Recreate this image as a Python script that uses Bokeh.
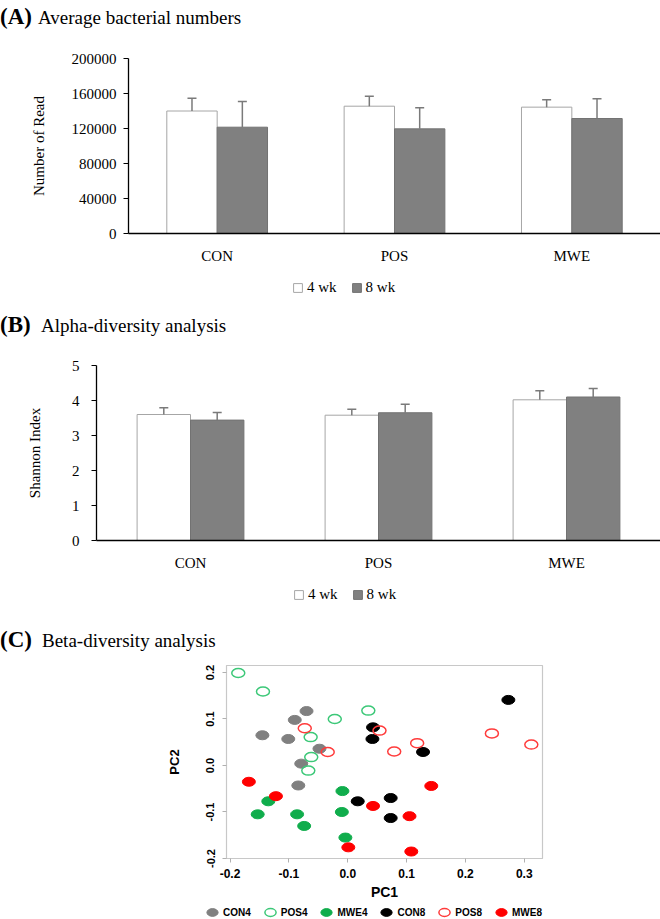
from bokeh.plotting import figure
from bokeh.models import (FactorRange, Range1d, FixedTicker, Legend, LegendItem, Div,
                          ColumnDataSource, BasicTickFormatter, PrintfTickFormatter)
from bokeh.transform import dodge
from bokeh.embed import file_html
from bokeh.resources import INLINE

# ---------------- data ----------------
groups = ["CON", "POS", "MWE"]
weeks = ["4 wk", "8 wk"]

reads_4wk = [140000, 145500, 144400]
reads_4wk_sd = [14700, 11500, 8400]
reads_8wk = [121500, 119600, 131400]
reads_8wk_sd = [29400, 24000, 22500]
reads_ticks = [0, 40000, 80000, 120000, 160000, 200000]

shannon_4wk = [3.60, 3.58, 4.02]
shannon_4wk_sd = [0.19, 0.17, 0.26]
shannon_8wk = [3.44, 3.65, 4.10]
shannon_8wk_sd = [0.22, 0.24, 0.24]
shannon_ticks = [0, 1, 2, 3, 4, 5]

pc_ticks = [-0.2, -0.1, 0.0, 0.1, 0.2, 0.3]
con4_pc1 = [-0.070, -0.090, -0.145, -0.101, -0.048, -0.079, -0.084]
con4_pc2 = [0.117, 0.098, 0.065, 0.057, 0.036, 0.004, -0.043]
pos4_pc1 = [-0.186, -0.144, -0.022, -0.063, -0.062, -0.067, 0.035]
pos4_pc2 = [0.199, 0.159, 0.100, 0.061, 0.018, -0.011, 0.118]
mwe4_pc1 = [-0.009, -0.135, -0.153, -0.086, -0.010, -0.074, -0.004]
mwe4_pc2 = [-0.055, -0.077, -0.105, -0.105, -0.100, -0.130, -0.155]
con8_pc1 = [0.273, 0.043, 0.042, 0.128, 0.017, 0.073, 0.073]
con8_pc2 = [0.141, 0.082, 0.057, 0.029, -0.077, -0.070, -0.113]
pos8_pc1 = [-0.073, -0.034, 0.054, 0.245, 0.118, 0.079, 0.312]
pos8_pc2 = [0.080, 0.029, 0.075, 0.069, 0.048, 0.030, 0.045]
mwe8_pc1 = [-0.168, -0.122, 0.001, 0.142, 0.043, 0.105, 0.108]
mwe8_pc2 = [-0.035, -0.066, -0.176, -0.044, -0.087, -0.109, -0.185]

SERIF = "Liberation Serif"
SANS = "Liberation Sans"
WHITE_BAR = dict(fill_color="white", line_color="#a6a6a6", line_width=1)
GRAY_BAR = dict(fill_color="#808080", line_color="#727272", line_width=1)


def title_div(tag, text, tag_w, height):
    html = ('<span style="display:inline-block;width:%dpx;font-weight:bold;font-size:23px">%s</span>%s'
            % (tag_w, tag, text))
    return Div(text=html, width=660, height=height, margin=0,
               styles={"font-family": SERIF, "font-size": "19px",
                       "line-height": "%dpx" % height, "color": "black",
                       "white-space": "nowrap"})


def strip(height, x_range, y_range):
    # legend-only strip; its glyphs are hidden / outside the visible ranges
    p = figure(width=660, height=height, x_range=x_range, y_range=y_range,
               x_axis_location=None, y_axis_location=None, toolbar_location=None,
               output_backend="svg", min_border=0)
    p.outline_line_color = None
    p.grid.visible = False
    return p


def bar_legend(height, vx, vy, v4, v8):
    p = strip(height, FactorRange(factors=groups), Range1d(-2, -1))
    r4 = p.vbar(x=groups, top=v4, bottom=v4, width=0, visible=False, **WHITE_BAR)
    r8 = p.vbar(x=groups, top=v8, bottom=v8, width=0, visible=False, **GRAY_BAR)
    leg = Legend(items=[LegendItem(label=weeks[0], renderers=[r4]),
                        LegendItem(label=weeks[1], renderers=[r8])],
                 orientation="horizontal", location=(vx, vy),
                 glyph_width=11, glyph_height=11, label_standoff=4, spacing=14,
                 padding=0, margin=0, border_line_color=None,
                 background_fill_alpha=0, label_height=16,
                 inactive_fill_alpha=0,
                 label_text_font=SERIF, label_text_font_size="15px",
                 label_text_color="black")
    p.add_layout(leg)
    return p


def bar_panel(frame_w, b_left, b_top, b_bottom, ymax, ticks, v4, e4, v8, e8,
              ylabel, lab_standoff, axlab_standoff):
    p = figure(frame_width=frame_w, frame_height=175,
               x_range=FactorRange(factors=groups, range_padding=0),
               y_range=Range1d(0, ymax),
               output_backend="svg", toolbar_location=None,
               min_border_left=b_left, min_border_right=0,
               min_border_top=b_top, min_border_bottom=b_bottom)
    p.outline_line_color = None
    p.grid.visible = False
    src = ColumnDataSource(dict(
        g=groups, v4=v4, u4=[a + b for a, b in zip(v4, e4)],
        v8=v8, u8=[a + b for a, b in zip(v8, e8)]))
    off, w = 0.142, 0.284
    p.vbar(x=dodge("g", -off, range=p.x_range), top="v4", width=w, source=src, **WHITE_BAR)
    p.vbar(x=dodge("g", off, range=p.x_range), top="v8", width=w, source=src, **GRAY_BAR)
    for key, o in (("4", -off), ("8", off)):
        p.segment(x0=dodge("g", o, range=p.x_range), y0="v" + key,
                  x1=dodge("g", o, range=p.x_range), y1="u" + key, source=src,
                  line_color="#7a7a7a", line_width=1.5)
        p.scatter(x=dodge("g", o, range=p.x_range), y="u" + key, marker="dash",
                  size=9, line_color="#7a7a7a", line_width=1.5, source=src)

    ya = p.yaxis[0]
    ya.ticker = FixedTicker(ticks=ticks)
    ya.formatter = BasicTickFormatter(use_scientific=False)
    ya.major_tick_out = 5
    ya.major_tick_in = 0
    ya.minor_tick_out = 0
    ya.minor_tick_in = 0
    ya.axis_line_width = 1.3
    ya.axis_line_color = "black"
    ya.major_tick_line_color = "black"
    ya.major_label_text_font = SERIF
    ya.major_label_text_font_size = "15px"
    ya.major_label_text_color = "black"
    ya.major_label_standoff = lab_standoff
    ya.axis_label = ylabel
    ya.axis_label_text_font = SERIF
    ya.axis_label_text_font_size = "15px"
    ya.axis_label_text_font_style = "normal"
    ya.axis_label_text_color = "black"
    ya.axis_label_standoff = axlab_standoff

    xa = p.xaxis[0]
    xa.major_tick_out = 0
    xa.major_tick_in = 0
    xa.axis_line_width = 1.3
    xa.axis_line_color = "black"
    xa.major_label_text_font = SERIF
    xa.major_label_text_font_size = "15px"
    xa.major_label_text_color = "black"
    xa.major_label_standoff = 14
    return p


pA = bar_panel(532, 128, 24, 37, 200000, reads_ticks,
               reads_4wk, reads_4wk_sd, reads_8wk, reads_8wk_sd,
               "Number of Read", 7, 22)
lA = bar_legend(35, 292, 9, reads_4wk, reads_8wk)
pB = bar_panel(564, 96, 20, 37, 5, shannon_ticks,
               shannon_4wk, shannon_4wk_sd, shannon_8wk, shannon_8wk_sd,
               "Shannon Index", 12, 26)
lB = bar_legend(43, 293, 17, shannon_4wk, shannon_8wk)

# ---------------- panel C ----------------
x0, x1, y0, y1 = -0.206, 0.331, -0.2, 0.215
pC = figure(frame_width=316, frame_height=193, x_range=Range1d(x0, x1), y_range=Range1d(y0, y1),
            output_backend="svg", toolbar_location=None,
            min_border_left=226, min_border_right=118,
            min_border_top=5, min_border_bottom=43)
pC.grid.visible = False
pC.outline_line_color = "#c8c8c8"
pC.outline_line_width = 1.2

series = [
    ("CON4", con4_pc1, con4_pc2, "#808080", "#808080"),
    ("POS4", pos4_pc1, pos4_pc2, None, "#3cc878"),
    ("MWE4", mwe4_pc1, mwe4_pc2, "#10ad4c", "#10ad4c"),
    ("CON8", con8_pc1, con8_pc2, "#000000", "#000000"),
    ("POS8", pos8_pc1, pos8_pc2, None, "#ff3b3b"),
    ("MWE8", mwe8_pc1, mwe8_pc2, "#ff0000", "#ff0000"),
]
lC = strip(17, Range1d(1, 2), Range1d(1, 2))
items = []
for name, xs, ys, fill, line in series:
    style = dict(width=13, height=9, width_units="screen", height_units="screen",
                 fill_color=fill, line_color=line, line_width=1.5 if fill is None else 1)
    pC.ellipse(x=xs, y=ys, **style)
    r = lC.ellipse(x=xs, y=ys, **style)
    items.append(LegendItem(label=name, renderers=[r]))

for ax in (pC.xaxis[0], pC.yaxis[0]):
    ax.ticker = FixedTicker(ticks=pc_ticks)
    ax.formatter = PrintfTickFormatter(format="%.1f")
    ax.axis_line_color = "#c8c8c8"
    ax.major_tick_line_color = "#b0b0b0"
    ax.major_tick_out = 4
    ax.major_tick_in = 0
    ax.minor_tick_out = 0
    ax.minor_tick_in = 0
    ax.major_label_text_font = SANS
    ax.major_label_text_color = "black"
    ax.axis_label_text_font = SANS
    ax.axis_label_text_font_style = "bold"
    ax.axis_label_text_color = "black"

xa = pC.xaxis[0]
xa.major_label_text_font_size = "12px"
xa.major_label_text_font_style = "bold"
xa.major_label_standoff = 6
xa.axis_label = "PC1"
xa.axis_label_text_font_size = "14px"
xa.axis_label_standoff = 3

ya = pC.yaxis[0]
ya.major_label_orientation = "vertical"
ya.major_label_text_font_size = "11px"
ya.major_label_text_font_style = "bold"
ya.major_label_standoff = 8
ya.axis_label = "PC2"
ya.axis_label_text_font_size = "13px"
ya.axis_label_standoff = 22

legC = Legend(items=items, orientation="horizontal", location=(203, 0),
              glyph_width=18, glyph_height=14, label_standoff=2, spacing=10,
              padding=0, margin=0, border_line_color=None,
              background_fill_alpha=0, label_height=12,
              label_text_font=SANS, label_text_font_style="bold",
              label_text_font_size="10px", label_text_color="black")
lC.add_layout(legC)

roots = [title_div("(A)", "Average bacterial numbers", 38, 34), pA, lA,
         title_div("(B)", "Alpha-diversity analysis", 41, 40), pB, lB,
         title_div("(C)", "Beta-diversity analysis", 42, 40), pC, lC]
open("out.html", "w").write(file_html(roots, INLINE))
